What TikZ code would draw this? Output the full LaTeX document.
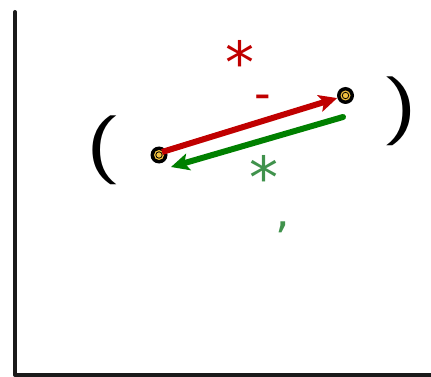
\documentclass[tikz,border=0pt]{standalone}
\usepackage{fontspec}
\setmainfont{DejaVu Sans}
\newfontfamily\parenfont{Latin Modern Sans}
\usetikzlibrary{arrows.meta}
\definecolor{cred}{RGB}{192,0,0}
\definecolor{cgreen}{RGB}{0,128,0}
\definecolor{tgreen}{RGB}{64,146,76}
\definecolor{cyel}{RGB}{240,192,64}
\definecolor{axis}{RGB}{26,26,26}
\tikzset{
  pt/.style={circle,fill=black,minimum size=17pt,inner sep=0pt},
  axisline/.style={draw=axis,line width=4pt},
  redarrow/.style={draw=cred,line width=6pt,-{Stealth[length=18pt,width=17pt,inset=4pt]}},
  greenarrow/.style={draw=cgreen,line width=6pt,line cap=round,-{Stealth[length=18pt,width=17pt,inset=4pt]}},
  lbl/.style={inner sep=0pt,anchor=center},
  paren/.style={inner sep=0pt,anchor=center,font=\parenfont\fontsize{69}{69}\selectfont},
}
\begin{document}
\begin{tikzpicture}[x=1pt,y=-1pt]
\useasboundingbox (0,0) rectangle (431,377);
% axes
\coordinate (top) at (15,12);
\coordinate (corner) at (15,375);
\coordinate (right) at (433,375);
\draw[axisline,line cap=round] (top) -- (corner);
\draw[axisline] (corner) -- (right);
% points
\node[pt] (L) at (159,155) {};
\node[pt] (R) at (345.5,95.5) {};
\foreach \p in {L,R}{
  \fill[cyel] (\p) circle (5pt);
  \draw[black,line width=0.8pt] (\p) circle (3.2pt);
  \fill[cyel] (\p) circle (2pt);
}
% arrows
\coordinate (r0) at (162,152);
\draw[redarrow] (r0) -- (R);
\coordinate (g0) at (343,117);
\coordinate (g1) at (171,167);
\draw[greenarrow] (g0) -- (g1);
% labels
\node[lbl,text=cred,font=\fontsize{58}{58}\selectfont] (s1) at (240,62) {*};
\node[lbl,text=cred,font=\fontsize{46}{46}\selectfont] (m1) at (263,102) {-};
\node[lbl,text=tgreen,font=\fontsize{58}{58}\selectfont] (s2) at (264,177) {*};
\node[lbl,text=tgreen,font=\fontsize{46}{46}\selectfont] (c1) at (283,227) {,};
\node[paren] (pl) at (104,150) {\scalebox{1.45}[1]{(}};
\node[paren] (pr) at (400,111) {\scalebox{1.45}[1]{)}};
\end{tikzpicture}
\end{document}
